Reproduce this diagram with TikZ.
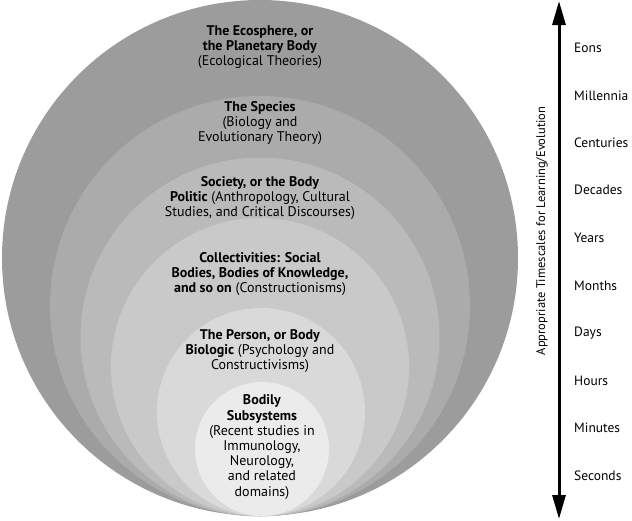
\documentclass[tikz,border=0pt]{standalone}
\usepackage{fontspec}
\setmainfont{PT Sans}
\usetikzlibrary{arrows.meta}
\definecolor{g1}{gray}{0.61}
\definecolor{g2}{gray}{0.67}
\definecolor{g3}{gray}{0.73}
\definecolor{g4}{gray}{0.79}
\definecolor{g5}{gray}{0.85}
\definecolor{g6}{gray}{0.92}
\tikzset{
  lbl/.style={font=\fontsize{14}{15.2}\selectfont, align=center, inner sep=0pt, text=black},
  tlbl/.style={font=\fontsize{13.5}{15}\selectfont, anchor=west, inner sep=0pt},
  axis/.style={line width=3pt, {Triangle[length=24pt,width=13pt]}-{Triangle[length=24pt,width=13pt]}}
}
\begin{document}
\begin{tikzpicture}[x=1pt,y=-1pt]
\useasboundingbox (0,0) rectangle (632,520);
\fill[g1] (260,258) circle[radius=258pt];
\fill[g2] (260,306) circle[radius=210pt];
\fill[g3] (260,337) circle[radius=179.5pt];
\fill[g4] (260,367) circle[radius=149pt];
\fill[g5] (261,412) circle[radius=104pt];
\fill[g6] (262,449) circle[radius=67pt];

\node[lbl] (eco) at (260,47) {\textbf{The Ecosphere, or}\\\textbf{the Planetary Body}\\(Ecological Theories)};
\node[lbl] (spe) at (260,123) {\textbf{The Species}\\(Biology and\\Evolutionary Theory)};
\node[lbl] (soc) at (260,198) {\textbf{Society, or the Body}\\\textbf{Politic} (Anthropology, Cultural\\Studies, and Critical Discourses)};
\node[lbl] (col) at (260,274) {\textbf{Collectivities: Social}\\\textbf{Bodies, Bodies of Knowledge,}\\\textbf{and so on} (Constructionisms)};
\node[lbl] (per) at (260,351) {\textbf{The Person, or Body}\\\textbf{Biologic} (Psychology and\\Constructivisms)};
\node[lbl] (bod) at (262,447) {\textbf{Bodily}\\\textbf{Subsystems}\\(Recent studies in\\Immunology,\\Neurology,\\and related\\domains)};

\coordinate (atop) at (559,1);
\coordinate (abot) at (559,519);
\draw[axis] (atop) -- (abot);
\node[rotate=90, font=\fontsize{12.5}{15}\selectfont, inner sep=0pt] (axl) at (542,231) {Appropriate Timescales for Learning/Evolution};

\node[tlbl] (t1) at (574,48) {Eons};
\node[tlbl] (t2) at (574,96) {Millennia};
\node[tlbl] (t3) at (574,143) {Centuries};
\node[tlbl] (t4) at (574,190) {Decades};
\node[tlbl] (t5) at (574,238) {Years};
\node[tlbl] (t6) at (574,286) {Months};
\node[tlbl] (t7) at (574,333) {Days};
\node[tlbl] (t8) at (574,381) {Hours};
\node[tlbl] (t9) at (574,428) {Minutes};
\node[tlbl] (t10) at (574,476) {Seconds};
\end{tikzpicture}
\end{document}
